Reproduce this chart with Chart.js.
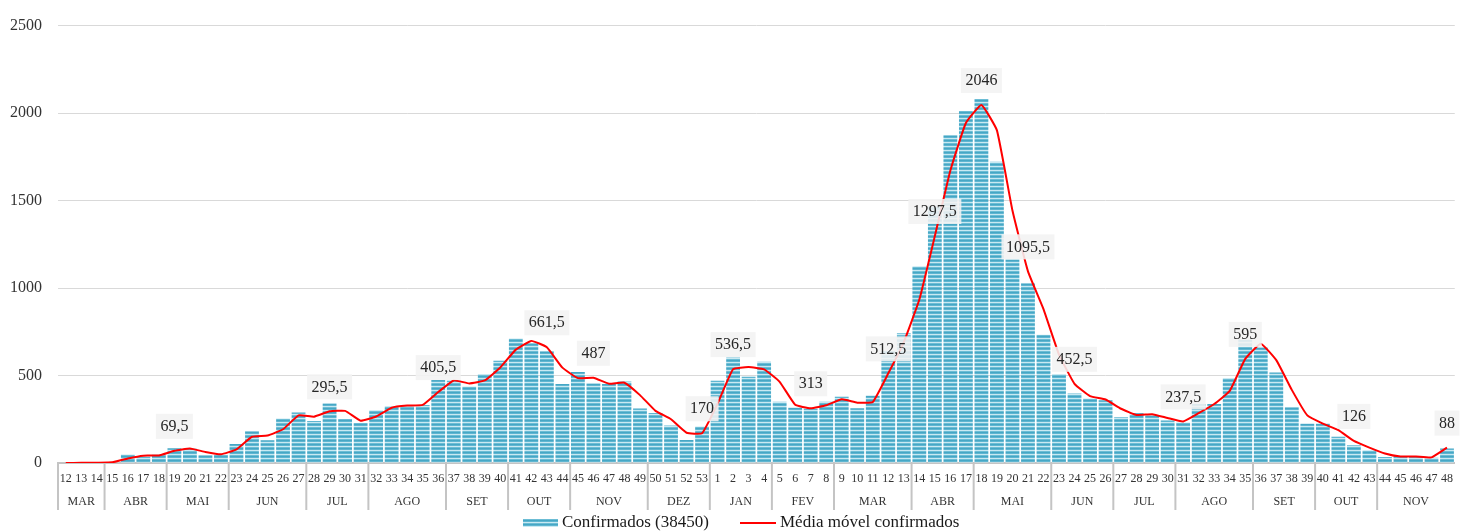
<!DOCTYPE html>
<html>
<head>
<meta charset="utf-8">
<script src="https://cdn.jsdelivr.net/npm/chart.js@4.4.0/dist/chart.umd.min.js"></script>
<style>
  html, body { margin: 0; padding: 0; background: #fff; }
  canvas { display: block; }
</style>
</head>
<body>
<canvas id="myChart" width="1462" height="532"></canvas>
<script>
/*=============== DATA ===============*/

// epidemiological weeks: 2020 (12-53) then 2021 (1-48)
const weeks = [
  12, 13, 14, 15, 16, 17, 18, 19, 20, 21, 22, 23, 24, 25, 26, 27, 28, 29, 30, 31,
  32, 33, 34, 35, 36, 37, 38, 39, 40, 41, 42, 43, 44, 45, 46, 47, 48, 49, 50, 51,
  52, 53,
  1, 2, 3, 4, 5, 6, 7, 8, 9, 10, 11, 12, 13, 14, 15, 16, 17, 18, 19, 20,
  21, 22, 23, 24, 25, 26, 27, 28, 29, 30, 31, 32, 33, 34, 35, 36, 37, 38, 39, 40,
  41, 42, 43, 44, 45, 46, 47, 48,
];

const monthNames = [
  "MAR", "ABR", "MAI", "JUN", "JUL", "AGO", "SET", "OUT", "NOV", "DEZ",
  "JAN", "FEV", "MAR", "ABR", "MAI", "JUN", "JUL", "AGO", "SET", "OUT", "NOV",
];
const monthWeeks = [3, 4, 4, 5, 4, 5, 4, 4, 5, 4, 4, 4, 5, 4, 5, 4, 4, 5, 4, 4, 5];

const confirmed = [
  0, 2, 3, 5, 48, 36, 50, 85, 82, 44, 47, 108, 182, 130, 255, 288, 240, 340, 252, 228,
  302, 326, 326, 332, 475, 470, 437, 508, 585, 712, 684, 639, 451, 520, 454, 452, 466, 311, 286, 214,
  132, 208,
  470, 603, 493, 578, 350, 316, 310, 350, 378, 313, 385, 640, 742, 1125, 1470, 1873, 2012, 2080, 1722, 1163,
  1028, 733, 508, 397, 368, 358, 262, 286, 272, 243, 232, 337, 337, 486, 704, 660, 517, 318, 225, 225,
  150, 102, 73, 34, 40, 34, 30, 83,
];

const movingAvg = [
  0, 1, 2, 4, 26, 42, 43, 69.5, 83, 63, 50, 78, 150, 157, 193, 272, 265, 295.5, 298, 242,
  266, 316, 328, 332, 405.5, 472, 455, 472, 546, 648, 698, 661.5, 545, 485, 487, 453, 459, 388, 298, 250,
  173, 170,
  339, 536.5, 548, 535, 464, 333, 313, 330, 364, 345, 349, 512.5, 691, 934, 1297.5, 1672, 1943, 2046, 1901, 1443,
  1095.5, 880, 620, 452.5, 382, 363, 310, 274, 279, 257, 237.5, 285, 337, 412, 595, 682, 588, 418, 272, 225,
  188, 126, 88, 54, 37, 37, 32, 88,
];

// points of the moving average that carry a value label
const labelled = [7, 17, 24, 31, 34, 41, 43, 48, 53, 56, 59, 62, 65, 72, 76, 83, 89];

const yTicks = [0, 500, 1000, 1500, 2000, 2500];

/*=============== STYLE ===============*/

const SERIF = "'Liberation Serif', 'Times New Roman', serif";

function stripes(ctx) {
  const c = document.createElement("canvas");
  c.width = 4;
  c.height = 4;
  const g = c.getContext("2d");
  const rows = ["#46a7c5", "#5fb6d1", "#c9e9f2", "#6cbdd5"];
  rows.forEach((col, i) => {
    g.fillStyle = col;
    g.fillRect(0, i, 4, 1);
  });
  return ctx.createPattern(c, "repeat");
}

const ctx = document.getElementById("myChart").getContext("2d");
const barFill = stripes(ctx);

// month row, separators, value labels and legend
const overlay = {
  id: "overlay",
  afterDatasetsDraw(chart) {
    const c = chart.ctx;
    const meta = chart.getDatasetMeta(1);
    c.save();
    c.font = "16px " + SERIF;
    c.textAlign = "center";
    c.textBaseline = "middle";
    labelled.forEach((i) => {
      const p = meta.data[i];
      const txt = String(movingAvg[i]).replace(".", ",");
      const w = c.measureText(txt).width + 9;
      const y = p.y - 25;
      c.fillStyle = "rgba(242,242,242,0.88)";
      c.fillRect(p.x - w / 2, y - 12, w, 25);
      c.fillStyle = "#262626";
      c.fillText(txt, p.x, y + 1);
    });
    c.restore();
  },
  afterDraw(chart) {
    const c = chart.ctx;
    const x = chart.scales.x;
    const area = chart.chartArea;
    const cw = (area.right - area.left) / weeks.length;
    c.save();
    c.strokeStyle = "#c4c4c4";
    c.lineWidth = 2;
    c.font = "12px " + SERIF;
    c.fillStyle = "#333";
    c.textAlign = "center";
    c.textBaseline = "middle";
    let s = 0;
    monthNames.forEach((m, k) => {
      const left = x.getPixelForTick(s) - cw / 2;
      const right = left + monthWeeks[k] * cw;
      c.beginPath();
      c.moveTo(left, area.bottom);
      c.lineTo(left, area.bottom + 47);
      c.stroke();
      c.fillText(m, (left + right) / 2, area.bottom + 39);
      s += monthWeeks[k];
    });

    // legend
    const ly = area.bottom + 60;
    c.font = "17px " + SERIF;
    c.textAlign = "left";
    c.fillStyle = barFill;
    c.fillRect(523, ly - 4, 35, 8);
    c.fillStyle = "#1a1a1a";
    c.fillText("Confirmados (38450)", 562, ly);
    c.strokeStyle = "#ff0000";
    c.lineWidth = 2;
    c.beginPath();
    c.moveTo(740, ly);
    c.lineTo(776, ly);
    c.stroke();
    c.fillStyle = "#1a1a1a";
    c.fillText("Média móvel confirmados", 780, ly);
    c.restore();
  },
};

/*=============== CHART ===============*/

new Chart(ctx, {
  type: "bar",
  data: {
    labels: weeks,
    datasets: [
      {
        type: "bar",
        label: "Confirmados (38450)",
        data: confirmed,
        backgroundColor: barFill,
        barPercentage: 1,
        categoryPercentage: 0.89,
        order: 2,
      },
      {
        type: "line",
        label: "Média móvel confirmados",
        data: movingAvg,
        borderColor: "#ff0000",
        borderWidth: 2,
        pointRadius: 0,
        tension: 0.12,
        fill: false,
        order: 1,
      },
    ],
  },
  options: {
    responsive: false,
    animation: false,
    layout: { padding: { top: 22, left: 0, right: 0, bottom: 0 } },
    plugins: {
      legend: { display: false },
      tooltip: { enabled: false },
    },
    scales: {
      x: {
        grid: { display: false, drawTicks: false },
        border: { display: true, color: "#c4c4c4", width: 2 },
        ticks: {
          autoSkip: false,
          maxRotation: 0,
          padding: 9,
          color: "#333",
          font: { family: SERIF, size: 12 },
        },
        afterFit(scale) {
          scale.height = 69;
        },
      },
      y: {
        min: 0,
        max: 2500,
        grid: { color: "#d9d9d9", lineWidth: 1, drawTicks: false },
        border: { display: false },
        afterBuildTicks(scale) {
          scale.ticks = yTicks.map((v) => ({ value: v }));
        },
        ticks: {
          padding: 16,
          color: "#333",
          font: { family: SERIF, size: 16 },
          callback: (v) => String(v),
        },
        afterFit(scale) {
          scale.width = 58;
        },
      },
    },
  },
  plugins: [overlay],
});
</script>
</body>
</html>
